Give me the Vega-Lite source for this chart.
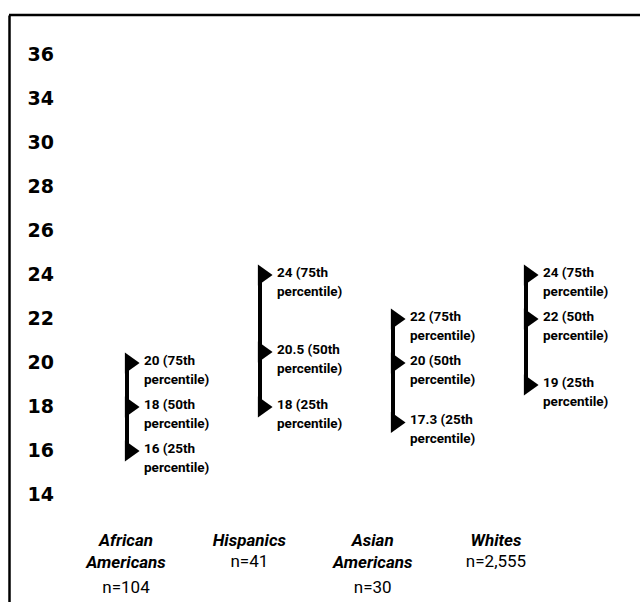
{
  "$schema": "https://vega.github.io/schema/vega-lite/v6.json",
  "width": 631,
  "height": 587,
  "autosize": "none",
  "padding": {"left": 9, "top": 15, "right": 0, "bottom": 0},
  "background": "white",
  "config": {"view": {"stroke": null}},
  "datasets": {
    "pts": [
      {"group": "African Americans", "value": 20, "label": "20 (75th\npercentile)"},
      {"group": "African Americans", "value": 18, "label": "18 (50th\npercentile)"},
      {"group": "African Americans", "value": 16, "label": "16 (25th\npercentile)"},
      {"group": "Hispanics", "value": 24, "label": "24 (75th\npercentile)"},
      {"group": "Hispanics", "value": 20.5, "label": "20.5 (50th\npercentile)"},
      {"group": "Hispanics", "value": 18, "label": "18 (25th\npercentile)"},
      {"group": "Asian Americans", "value": 22, "label": "22 (75th\npercentile)"},
      {"group": "Asian Americans", "value": 20, "label": "20 (50th\npercentile)"},
      {"group": "Asian Americans", "value": 17.3, "label": "17.3 (25th\npercentile)"},
      {"group": "Whites", "value": 24, "label": "24 (75th\npercentile)"},
      {"group": "Whites", "value": 22, "label": "22 (50th\npercentile)"},
      {"group": "Whites", "value": 19, "label": "19 (25th\npercentile)"}
    ],
    "groups": [
      {"group": "African Americans", "name": "African\nAmericans", "n": "n=104", "lines": 2},
      {"group": "Hispanics", "name": "Hispanics", "n": "n=41", "lines": 1},
      {"group": "Asian Americans", "name": "Asian\nAmericans", "n": "n=30", "lines": 2},
      {"group": "Whites", "name": "Whites", "n": "n=2,555", "lines": 1}
    ]
  },
  "layer": [
    {
      "data": {"name": "pts"},
      "mark": {"type": "rule", "strokeWidth": 4, "color": "black"},
      "encoding": {
        "x": {"field": "group", "type": "nominal", "axis": null,
              "scale": {"type": "point", "padding": 0, "domain": ["African Americans", "Hispanics", "Asian Americans", "Whites"], "range": [118, 517]}},
        "y": {"aggregate": "min", "field": "value", "type": "quantitative",
              "scale": {"domain": [9.136, 35.818], "nice": false, "zero": false},
              "axis": {"values": [14, 16, 18, 20, 22, 24, 26, 28, 30, 32, 34],
                       "labelExpr": "datum.value == 32 ? '34' : datum.value == 34 ? '36' : datum.label",
                       "ticks": false, "grid": false, "domain": true, "domainColor": "black", "domainWidth": 2.5,
                       "labelAlign": "left", "labelPadding": -18, "labelFont": "DejaVu Sans", "labelFontSize": 19, "labelFontWeight": "bold",
                       "labelColor": "black", "title": null, "labelBound": false, "labelOverlap": false, "labelBaseline": "middle"}},
        "y2": {"aggregate": "max", "field": "value"}
      }
    },
    {
      "data": {"name": "pts"},
      "mark": {"type": "point", "shape": "M-0.2,-1L1.2,0L-0.2,1Z", "filled": true, "size": 440, "color": "black", "opacity": 1},
      "encoding": {
        "x": {"field": "group", "type": "nominal", "axis": null,
              "scale": {"type": "point", "padding": 0, "domain": ["African Americans", "Hispanics", "Asian Americans", "Whites"], "range": [118, 517]}},
        "y": {"field": "value", "type": "quantitative"}
      }
    },
    {
      "data": {"name": "pts"},
      "mark": {"type": "text", "align": "left", "baseline": "middle", "dx": 17, "dy": -2, "lineBreak": "\n", "lineHeight": 19,
               "font": "Roboto", "fontWeight": "bold", "fontSize": 13.5, "color": "black"},
      "encoding": {
        "x": {"field": "group", "type": "nominal", "axis": null,
              "scale": {"type": "point", "padding": 0, "domain": ["African Americans", "Hispanics", "Asian Americans", "Whites"], "range": [118, 517]}},
        "y": {"field": "value", "type": "quantitative"},
        "text": {"field": "label"}
      }
    },
    {
      "data": {"name": "groups"},
      "mark": {"type": "text", "align": "center", "baseline": "middle", "dy": 46, "lineBreak": "\n", "lineHeight": 22,
               "font": "Roboto", "fontWeight": "bold", "fontStyle": "italic", "fontSize": 17, "color": "black"},
      "encoding": {
        "x": {"field": "group", "type": "nominal", "axis": null,
              "scale": {"type": "point", "padding": 0, "domain": ["African Americans", "Hispanics", "Asian Americans", "Whites"], "range": [117, 487]}},
        "y": {"datum": 14, "type": "quantitative"},
        "text": {"field": "name"}
      }
    },
    {
      "data": {"name": "groups"},
      "transform": [{"filter": "datum.lines == 2"}],
      "mark": {"type": "text", "align": "center", "baseline": "middle", "dy": 93,
               "font": "Roboto", "fontSize": 17, "color": "black"},
      "encoding": {
        "x": {"field": "group", "type": "nominal", "axis": null,
              "scale": {"type": "point", "padding": 0, "domain": ["African Americans", "Hispanics", "Asian Americans", "Whites"], "range": [117, 487]}},
        "y": {"datum": 14, "type": "quantitative"},
        "text": {"field": "n"}
      }
    },
    {
      "data": {"name": "groups"},
      "transform": [{"filter": "datum.lines == 1"}],
      "mark": {"type": "text", "align": "center", "baseline": "middle", "dy": 67,
               "font": "Roboto", "fontSize": 17, "color": "black"},
      "encoding": {
        "x": {"field": "group", "type": "nominal", "axis": null,
              "scale": {"type": "point", "padding": 0, "domain": ["African Americans", "Hispanics", "Asian Americans", "Whites"], "range": [117, 487]}},
        "y": {"datum": 14, "type": "quantitative"},
        "text": {"field": "n"}
      }
    },
    {
      "data": {"values": [{}]},
      "mark": {"type": "rule", "strokeWidth": 2.5, "color": "black"},
      "encoding": {"y": {"datum": 35.818, "type": "quantitative"}}
    }
  ],
  "resolve": {"scale": {"x": "independent"}}
}
